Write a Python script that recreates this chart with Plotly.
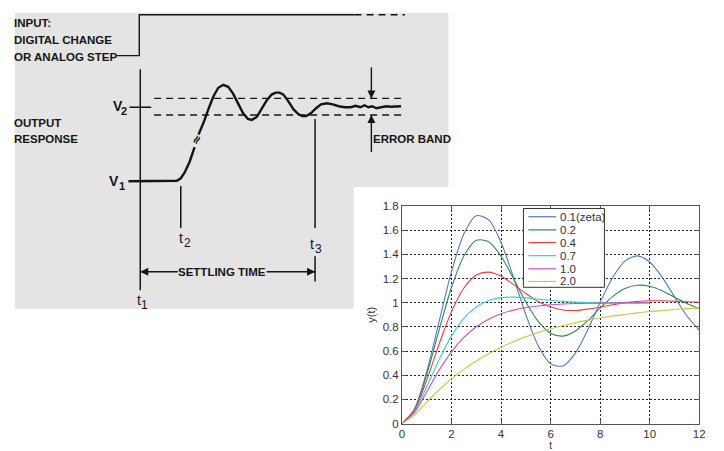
import plotly.graph_objects as go

W, H = 724, 451

# ---------------- step response data ----------------
t_full = [i * 0.5 for i in range(25)]      # 0 .. 12
t_short = [i * 0.5 for i in range(21)]     # 0 .. 10

y_z01 = [0, 0.118, 0.431, 0.846, 1.258, 1.571, 1.720, 1.685, 1.498, 1.211, 0.901, 0.644,
         0.495, 0.477, 0.583, 0.776, 1.003, 1.207, 1.344, 1.388, 1.337, 1.212, 1.050, 0.892, 0.774]
y_z02 = [0, 0.115, 0.405, 0.775, 1.128, 1.387, 1.516, 1.505, 1.385, 1.201, 1.006, 0.845,
         0.747, 0.724, 0.766, 0.852, 0.956, 1.050, 1.117, 1.145, 1.136, 1.099, 1.046, 0.993, 0.951]
y_z04 = [0, 0.108, 0.360, 0.658, 0.927, 1.122, 1.229, 1.253, 1.219, 1.152, 1.076, 1.010,
         0.964, 0.940, 0.936, 0.947, 0.964, 0.983, 1.000, 1.010, 1.016, 1.016, 1.013, 1.008, 1.004]
y_z07 = [0, 0.098, 0.306, 0.531, 0.726, 0.871, 0.965, 1.019, 1.042, 1.046, 1.040, 1.030,
         1.020, 1.011, 1.005, 1.001, 0.999, 0.998, 0.998, 0.998, 0.999]
y_z10 = [0, 0.090, 0.264, 0.442, 0.594, 0.713, 0.801, 0.864, 0.908, 0.939, 0.960, 0.973,
         0.983, 0.989, 0.993, 0.995, 0.997, 0.998, 0.999, 0.999, 1.000]
y_z20 = [0, 0.070, 0.178, 0.280, 0.370, 0.449, 0.518, 0.578, 0.631, 0.677, 0.718, 0.753,
         0.784, 0.811, 0.835, 0.856, 0.874, 0.890, 0.903, 0.916, 0.926, 0.935, 0.944, 0.951, 0.957]

series_names = ["0.1(zeta)", "0.2", "0.4", "0.7", "1.0", "2.0"]
series_colors = ["#5079c8", "#2a8a55", "#f03c3c", "#35d0d0", "#c450c4", "#c8c83c"]

x_tickvals = [0, 2, 4, 6, 8, 10, 12]
x_ticktext = ["0", "2", "4", "6", "8", "10", "12"]
y_tickvals = [0, 0.2, 0.4, 0.6, 0.8, 1.0, 1.2, 1.4, 1.6, 1.8]
y_ticktext = ["0", "0.2", "0.4", "0.6", "0.8", "1", "1.2", "1.4", "1.6", "1.8"]

# ---------------- schematic diagram (in its own pixel-like units) ----------------
input_x = [115, 138, 138, 356]
input_y = [51, 51, 9, 9]
input_dash_x = [356, 407]
input_dash_y = [9, 9]

resp_low_x = [127, 170, 176, 180, 184, 189, 194]
resp_low_y = [180, 180, 179.5, 177, 171, 160, 145]
resp_high_x = [198, 203, 208, 213, 218, 223, 228, 233, 238, 243, 248, 252, 257, 262, 267, 272,
               276, 280, 284, 289, 294, 299, 303, 307, 312, 317, 322, 328, 334, 340, 346,
               352, 357, 362, 366, 370, 374, 378, 383, 388, 393, 398, 403]
resp_high_y = [132, 120, 106, 93, 84, 81, 83, 90, 100, 110, 116, 117, 114, 106, 97, 91,
               89, 89, 91, 98, 106, 111, 113, 113, 110, 105, 101, 100, 101, 103, 104,
               104, 102.5, 104, 102, 104, 103, 105, 104, 103, 103.5, 103, 103]

band_upper = 95
band_lower = 112
band_x = [153, 408]

axis_t1_x = [139, 139]
axis_t1_y = [65, 292]
v2_tick_x = [128, 150]
v2_tick_y = [104, 104]
t2_x = [180, 180]
t2_y = [185, 228]
t3_x = [316, 316]
t3_y = [116, 228]
t3b_y = [257, 283]

fig = go.Figure()

# right chart curves
curves = [(t_full, y_z01), (t_full, y_z02), (t_full, y_z04),
          (t_short, y_z07), (t_short, y_z10), (t_full, y_z20)]
for (tx, ty), nm, col in zip(curves, series_names, series_colors):
    fig.add_trace(go.Scatter(x=tx, y=ty, name=nm, mode="lines",
                             line=dict(color=col, width=1.1, shape="spline", smoothing=0.8),
                             xaxis="x", yaxis="y", showlegend=False, hoverinfo="skip"))

INK = "#151515"
def dline(xs, ys, dash=None, width=1.6):
    fig.add_trace(go.Scatter(x=xs, y=ys, mode="lines",
                             line=dict(color=INK, width=width, dash=dash),
                             xaxis="x2", yaxis="y2", showlegend=False, hoverinfo="skip"))

dline(input_x, input_y, width=1.4)
dline(input_dash_x, input_dash_y, dash="7px,5px", width=1.4)
dline(band_x, [band_upper, band_upper], dash="7px,5px", width=1.3)
dline(band_x, [band_lower, band_lower], dash="7px,5px", width=1.3)
dline(resp_low_x, resp_low_y, width=2.4)
dline(resp_high_x, resp_high_y, width=2.4)
dline(axis_t1_x, axis_t1_y, width=1.5)
dline(v2_tick_x, v2_tick_y, width=1.5)
dline(t2_x, t2_y, width=1.5)
dline(t3_x, t3_y, width=1.5)
dline(t3_x, t3b_y, width=1.5)

# arrows: shaft as a line, head as an arrow marker at the tip
def arrow(x0, y0, x1, y1, symbol):
    fig.add_trace(go.Scatter(x=[x0, x1], y=[y0, y1], mode="lines",
                             line=dict(color=INK, width=1.4),
                             xaxis="x2", yaxis="y2", showlegend=False, hoverinfo="skip"))
    fig.add_trace(go.Scatter(x=[x1], y=[y1], mode="markers",
                             marker=dict(symbol=symbol, size=8, color=INK, line=dict(width=0)),
                             xaxis="x2", yaxis="y2", showlegend=False, hoverinfo="skip"))

arrow(373, 63, 373, 95, "arrow-down")
arrow(373, 150, 373, 112, "arrow-up")
arrow(177, 273, 139, 273, "arrow-left")
arrow(267, 273, 316, 273, "arrow-right")

shapes = [
    dict(type="rect", xref="paper", yref="paper", x0=12 / W, x1=451 / W, y0=1 - 311 / H, y1=1 - 7 / H,
         fillcolor="#e4e4e4", line=dict(width=0), layer="below"),
    dict(type="rect", xref="paper", yref="paper", x0=355 / W, x1=1, y0=0, y1=1 - 186 / H,
         fillcolor="white", line=dict(width=0), layer="below"),
]

annotations = []
FONT = "Liberation Sans, Arial, sans-serif"
def label(x, y, text, size=11.5, bold=True, xanchor="left"):
    annotations.append(dict(x=x, y=y, xref="x2", yref="y2", text=text,
                            showarrow=False, xanchor=xanchor, yanchor="middle",
                            font=dict(family=FONT, size=size, color=INK,
                                      weight=("bold" if bold else "normal"))))

label(9, 17, "INPUT:")
label(9, 35, "DIGITAL CHANGE")
label(9, 52, "OR ANALOG STEP")
label(9, 120, "OUTPUT")
label(9, 137, "RESPONSE")
label(373, 137, "ERROR BAND")
label(222, 273, "SETTLING TIME", xanchor="center")
# letters with lowered index digits
label(116, 103, "V", size=14, xanchor="center")
label(123, 108, "2", size=11, xanchor="center")
label(112.5, 180, "V", size=14, xanchor="center")
label(120, 185, "1", size=11, xanchor="center")
label(180.5, 238, "t", size=14, bold=False, xanchor="center")
label(187, 243, "2", size=12, bold=False, xanchor="center")
label(312.5, 245, "t", size=14, bold=False, xanchor="center")
label(319, 250, "3", size=12, bold=False, xanchor="center")
label(137.5, 302, "t", size=14, bold=False, xanchor="center")
label(143.5, 307, "1", size=12, bold=False, xanchor="center")
# break symbol on the rising edge
annotations.append(dict(x=196, y=138, xref="x2", yref="y2", text="≈", showarrow=False,
                        textangle=-60, font=dict(family="DejaVu Sans", size=12, color=INK, weight="bold")))

# manual legend (compact like MATLAB)
leg_x0, leg_x1, leg_y0, leg_y1 = 527, 609, 208, 289
shapes.append(dict(type="rect", xref="x2", yref="y2", x0=leg_x0, x1=leg_x1, y0=leg_y0, y1=leg_y1,
                   fillcolor="white", line=dict(color="#333", width=1), layer="above"))
leg_rows = [216.5, 230, 243, 256.5, 270, 283]
for ry, nm, col in zip(leg_rows, series_names, series_colors):
    shapes.append(dict(type="line", xref="x2", yref="y2", x0=532, x1=560, y0=ry, y1=ry,
                       line=dict(color=col, width=1.2), layer="above"))
    annotations.append(dict(x=562, y=ry, xref="x2", yref="y2", text=nm, showarrow=False,
                            xanchor="left", yanchor="middle",
                            font=dict(family=FONT, size=11.5, color="#333")))

axis_common = dict(showline=True, linecolor="#555", linewidth=1, mirror="ticks", ticks="inside",
                   ticklen=4, tickcolor="#555", showgrid=True, gridcolor="#222", gridwidth=1,
                   griddash="2px,2px", zeroline=False,
                   tickfont=dict(family=FONT, size=11.5, color="#333"))

fig.update_layout(
    width=W, height=H, autosize=False,
    margin=dict(l=0, r=0, t=0, b=0, pad=0),
    paper_bgcolor="white", plot_bgcolor="rgba(0,0,0,0)",
    xaxis=dict(domain=[404 / W, 705 / W], range=[0, 12], tickmode="array",
               tickvals=x_tickvals, ticktext=x_ticktext,
               title=dict(text="t", standoff=0, font=dict(family=FONT, size=10, color="#333")),
               anchor="y", **axis_common),
    yaxis=dict(domain=[1 - 429 / H, 1 - 205.5 / H], range=[0, 1.8], tickmode="array",
               tickvals=y_tickvals, ticktext=y_ticktext,
               title=dict(text="y(t)", standoff=4, font=dict(family=FONT, size=11, color="#333")),
               anchor="x", **axis_common),
    xaxis2=dict(domain=[0, 1], range=[0, W], visible=False, anchor="y2", fixedrange=True),
    yaxis2=dict(domain=[0, 1], range=[H, 0], visible=False, anchor="x2", fixedrange=True),
    shapes=shapes, annotations=annotations, showlegend=False,
)

fig.write_html("out.html", config={"displayModeBar": False},
               post_script="document.body.style.margin='0';document.documentElement.style.overflow='hidden';")
